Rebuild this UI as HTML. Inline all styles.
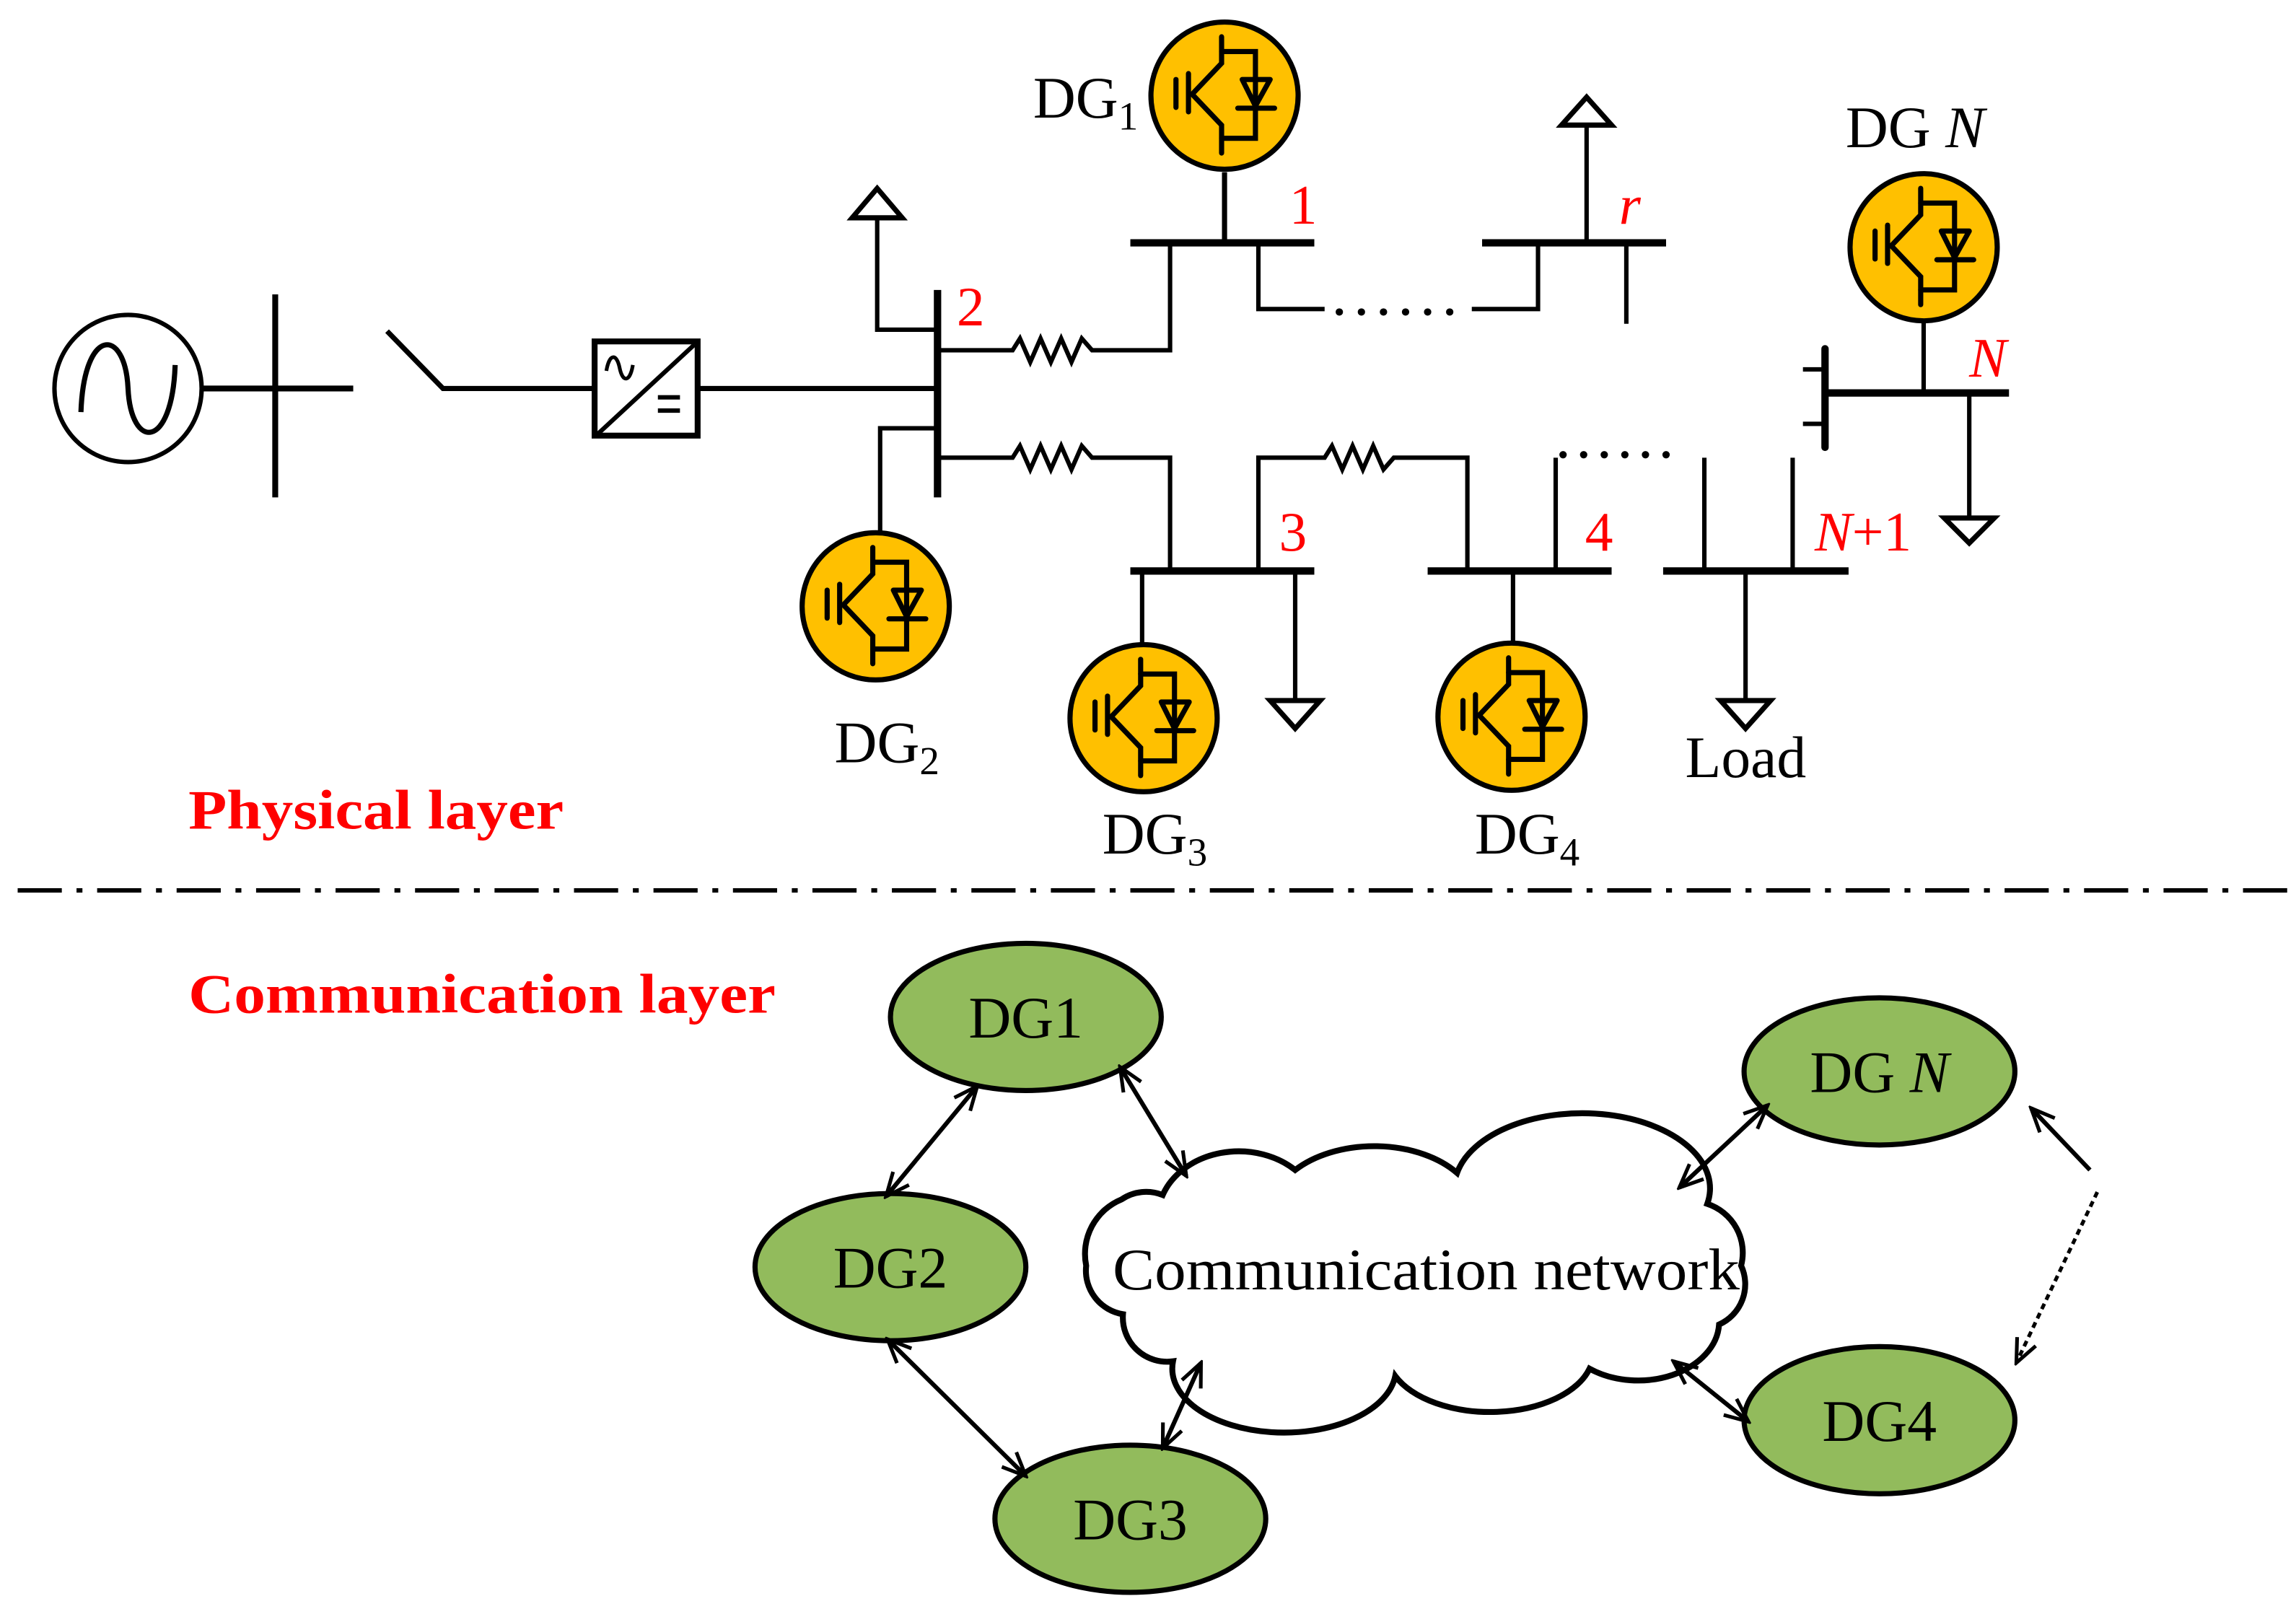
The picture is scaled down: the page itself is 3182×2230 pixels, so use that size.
<!DOCTYPE html>
<html><head><meta charset="utf-8"><style>
html,body{margin:0;padding:0;background:#fff;}
svg{display:block;}
text{font-family:"Liberation Serif",serif;}
</style></head><body>
<svg width="3182" height="2230" viewBox="0 0 1560 1093.3" preserveAspectRatio="none" xmlns="http://www.w3.org/2000/svg">
<defs>
<g id="dg">
<circle cx="0" cy="0" r="50" fill="#FFC000" stroke="#000" stroke-width="3.5"/>
<g stroke="#000" stroke-width="3.5" fill="none" stroke-linecap="round">
<line x1="-33" y1="-11" x2="-33" y2="8"/>
<line x1="-24.5" y1="-15" x2="-24.5" y2="11"/>
<polyline points="-2,-40 -2,-22 -22,-1 -2,20 -2,39"/>
<polyline points="-2,-30 21,-30 21,29 -2,29"/>
<polygon points="12,-11 31,-11 21,7" stroke-linejoin="round"/>
<line x1="9" y1="8.5" x2="34" y2="8.5"/>
</g>
</g>
<marker id="ah" viewBox="0 0 20 20" refX="18" refY="10" markerWidth="20" markerHeight="20" markerUnits="userSpaceOnUse" orient="auto-start-reverse">
<polyline points="2,3 18,10 2,17" fill="none" stroke="#000" stroke-width="2.5"/>
</marker>
</defs>

<g stroke="#000" stroke-width="3" fill="none">
<circle cx="87" cy="264" r="50"/>
<path d="M55,280 C57,222 85,222 87,264 C89,306 117,306 119,248" stroke-width="3.5"/>
<line x1="137" y1="264" x2="240" y2="264" stroke-width="4"/>
<line x1="187" y1="200" x2="187" y2="338" stroke-width="4"/>
<polyline points="263,225 301,264 403,264" stroke-width="3.5"/>
<rect x="404" y="232" width="70" height="64" stroke-width="4"/>
<line x1="406" y1="295" x2="472" y2="234"/>
<line x1="475" y1="264" x2="637" y2="264" stroke-width="3.5"/>
<line x1="637" y1="197" x2="637" y2="338" stroke-width="5"/>
<polyline points="637,224 596,224 596,148" stroke-width="3"/>
<polygon points="596,128 579,148 613,148" stroke-width="3.5"/>
<polyline points="637,291 598,291 598,362" stroke-width="3"/>
<polyline points="637,238 688,238 693,230 700,246 707,230 714,246 721,230 728,246 735,230 742,238 795,238 795,165" stroke-width="3"/>
<line x1="768" y1="165" x2="893" y2="165" stroke-width="5"/>
<line x1="832" y1="165" x2="832" y2="117" stroke-width="3.5"/>
<polyline points="855,165 855,210 900,210" stroke-width="3"/>
<polyline points="1000,210 1045,210 1045,165" stroke-width="3"/>
<line x1="1007" y1="165" x2="1132" y2="165" stroke-width="5"/>
<line x1="1078" y1="165" x2="1078" y2="85" stroke-width="3"/>
<polygon points="1078,66 1061,85 1095,85" stroke-width="3.5"/>
<line x1="1105" y1="165" x2="1105" y2="220" stroke-width="3"/>
<polyline points="637,311 688,311 693,303 700,319 707,303 714,319 721,303 728,319 735,303 742,311 795,311 795,388" stroke-width="3"/>
<line x1="768" y1="388" x2="893" y2="388" stroke-width="5"/>
<line x1="776" y1="388" x2="776" y2="437" stroke-width="3"/>
<polyline points="855,388 855,311 900,311 905,303 912,319 919,303 926,319 933,303 940,319 947,311 997,311 997,388" stroke-width="3"/>
<line x1="880" y1="388" x2="880" y2="476" stroke-width="3"/>
<polygon points="863,476 897,476 880,495" stroke-width="3.5"/>
<line x1="970" y1="388" x2="1095" y2="388" stroke-width="5"/>
<line x1="1028" y1="388" x2="1028" y2="437" stroke-width="3"/>
<line x1="1057" y1="388" x2="1057" y2="311" stroke-width="3"/>
<line x1="1130" y1="388" x2="1256" y2="388" stroke-width="5"/>
<line x1="1158" y1="388" x2="1158" y2="311" stroke-width="3"/>
<line x1="1218" y1="388" x2="1218" y2="311" stroke-width="3"/>
<line x1="1186" y1="388" x2="1186" y2="476" stroke-width="3"/>
<polygon points="1169,476 1203,476 1186,495" stroke-width="3.5"/>
<line x1="1240" y1="237" x2="1240" y2="304" stroke-width="5" stroke-linecap="round"/>
<line x1="1225" y1="251" x2="1240" y2="251" stroke-width="3"/>
<line x1="1225" y1="288" x2="1240" y2="288" stroke-width="3"/>
<line x1="1240" y1="267" x2="1365" y2="267" stroke-width="5"/>
<line x1="1307" y1="267" x2="1307" y2="219" stroke-width="3"/>
<line x1="1338" y1="267" x2="1338" y2="352" stroke-width="3"/>
<polygon points="1321,352 1355,352 1338,369" stroke-width="3.5"/>
</g>
<path d="M412,252 C414,240 419,240 421,250 C423,260 428,260 430,248" fill="none" stroke="#000" stroke-width="2.5"/>
<g stroke="#000" stroke-width="3"><line x1="447" y1="270" x2="462" y2="270"/><line x1="447" y1="279" x2="462" y2="279"/></g>
<g fill="#000">
<circle cx="910" cy="212" r="2.5"/><circle cx="925" cy="212" r="2.5"/><circle cx="940" cy="212" r="2.5"/><circle cx="955" cy="212" r="2.5"/><circle cx="970" cy="212" r="2.5"/><circle cx="985" cy="212" r="2.5"/>
<circle cx="1062" cy="309" r="2.5"/><circle cx="1076" cy="309" r="2.5"/><circle cx="1090" cy="309" r="2.5"/><circle cx="1104" cy="309" r="2.5"/><circle cx="1118" cy="309" r="2.5"/><circle cx="1132" cy="309" r="2.5"/>
</g>
<use href="#dg" x="832" y="65"/>
<use href="#dg" x="595" y="412"/>
<use href="#dg" x="777" y="488"/>
<use href="#dg" x="1027" y="487"/>
<use href="#dg" x="1307" y="168"/>

<g font-size="40" fill="#000">
<text x="702" y="80">DG<tspan font-size="27" dy="8">1</tspan></text>
<text x="567" y="518">DG<tspan font-size="27" dy="8">2</tspan></text>
<text x="749" y="580">DG<tspan font-size="27" dy="8">3</tspan></text>
<text x="1002" y="580">DG<tspan font-size="27" dy="8">4</tspan></text>
<text x="1254" y="100">DG <tspan font-style="italic">N</tspan></text>
<text x="1145" y="528">Load</text>
</g>
<g font-size="38" fill="#f00">
<text x="650" y="221">2</text>
<text x="876" y="152">1</text>
<text x="1100" y="152" font-style="italic">r</text>
<text x="869" y="374">3</text>
<text x="1077" y="374">4</text>
<text x="1233" y="374"><tspan font-style="italic">N</tspan>+1</text>
<text x="1338" y="256" font-style="italic">N</text>
</g>
<text x="128" y="563" font-size="38" font-weight="bold" fill="#f00" textLength="255" lengthAdjust="spacingAndGlyphs">Physical layer</text>
<text x="128" y="688" font-size="38" font-weight="bold" fill="#f00" textLength="399" lengthAdjust="spacingAndGlyphs">Communication layer</text>
<line x1="12" y1="605" x2="1555" y2="605" stroke="#000" stroke-width="3" stroke-dasharray="30,10,4,10"/>

<path d="M790,812 A55,45 0 0 1 880,795 A70,45 0 0 1 990,797 A85,50 0 0 1 1160,818 A35,35 0 0 1 1183,860 A30,30 0 0 1 1168,900 A55,40 0 0 1 1080,930 A70,40 0 0 1 948,935 A70,40 0 0 1 797,925 A30,30 0 0 1 763,893 A30,30 0 0 1 738,860 A40,40 0 0 1 762,815 A30,30 0 0 1 790,812 Z" fill="#fff" stroke="#000" stroke-width="4"/>
<text x="756" y="876" font-size="40" textLength="426" lengthAdjust="spacingAndGlyphs">Communication network</text>
<g fill="#92BB5C" stroke="#000" stroke-width="3.5">
<ellipse cx="697" cy="691" rx="92" ry="50"/>
<ellipse cx="605" cy="861" rx="92" ry="50"/>
<ellipse cx="768" cy="1032" rx="92" ry="50"/>
<ellipse cx="1277" cy="728" rx="92" ry="50"/>
<ellipse cx="1277" cy="965" rx="92" ry="50"/>
</g>
<g font-size="40" fill="#000" text-anchor="middle">
<text x="697" y="705">DG1</text>
<text x="605" y="875">DG2</text>
<text x="768" y="1046">DG3</text>
<text x="1277" y="742">DG <tspan font-style="italic">N</tspan></text>
<text x="1277" y="979">DG4</text>
</g>
<g stroke="#000" stroke-width="3" marker-start="url(#ah)" marker-end="url(#ah)">
<line x1="664" y1="738" x2="602" y2="813"/>
<line x1="761" y1="725" x2="806" y2="799"/>
<line x1="603" y1="910" x2="697" y2="1003"/>
<line x1="790" y1="984" x2="816" y2="926"/>
<line x1="1141" y1="807" x2="1201" y2="751"/>
<line x1="1137" y1="925" x2="1188" y2="966"/>
</g>
<line x1="1420" y1="795" x2="1380" y2="753" stroke="#000" stroke-width="3" marker-end="url(#ah)"/>
<line x1="1425" y1="810" x2="1370" y2="926" stroke="#000" stroke-width="2.5" stroke-dasharray="4,3" marker-end="url(#ah)"/>
</svg>
</body></html>
